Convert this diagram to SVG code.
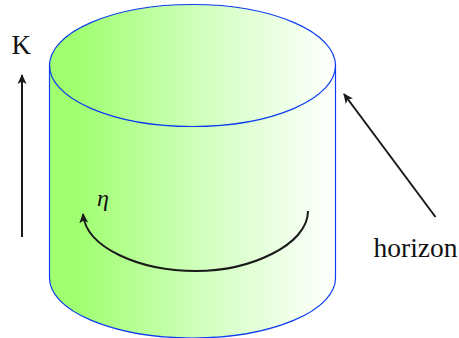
<svg xmlns="http://www.w3.org/2000/svg" width="459" height="338" viewBox="0 0 459 338">
<style>
.o{stroke:#0a3cf0;stroke-width:1.2;fill:none}
.a{stroke:#1a1a1a;stroke-width:2;fill:none;stroke-linecap:butt}
text{font-family:"Liberation Serif",serif;fill:#111}
</style>
<defs>
<linearGradient id="g" gradientUnits="userSpaceOnUse" x1="50" y1="0" x2="335" y2="0">
<stop offset="0" stop-color="#9fff6e"/>
<stop offset="0.09" stop-color="#a0ff70"/>
<stop offset="0.6" stop-color="#d8ffc8"/>
<stop offset="1" stop-color="#ffffff"/>
</linearGradient>
<marker id="h" viewBox="0 0 10 10" refX="9" refY="5" markerWidth="10" markerHeight="10" markerUnits="userSpaceOnUse" orient="auto">
<path d="M0 0.5L10 5L0 9.5L2.5 5Z" fill="#1a1a1a"/>
</marker>
</defs>
<g id="cylinder">
<path d="M49.5 65V278A143 60 0 0 0 335.5 278V65A143 60.5 0 0 0 49.5 65Z" fill="url(#g)"/>
<path class="o" d="M49.5 65V278A143 60 0 0 0 335.5 278V65"/>
<ellipse class="o" cx="192.5" cy="65.5" rx="143" ry="61"/>
</g>
<g id="connectors">
<path class="a" d="M22 237V75" marker-end="url(#h)"/>
<path class="a" d="M435.5 217L344 94" marker-end="url(#h)"/>
<path class="a" d="M308 211C308 245 250 271 196 271C140 271 86 248 83 214" marker-end="url(#h)"/>
</g>
<g id="labels">
<text x="11.500" y="54" font-size="27">K</text>
<text x="373.500" y="257" font-size="27.500">horizon</text>
<text x="97" y="206" font-size="24" font-style="italic">η</text>
</g>
</svg>
